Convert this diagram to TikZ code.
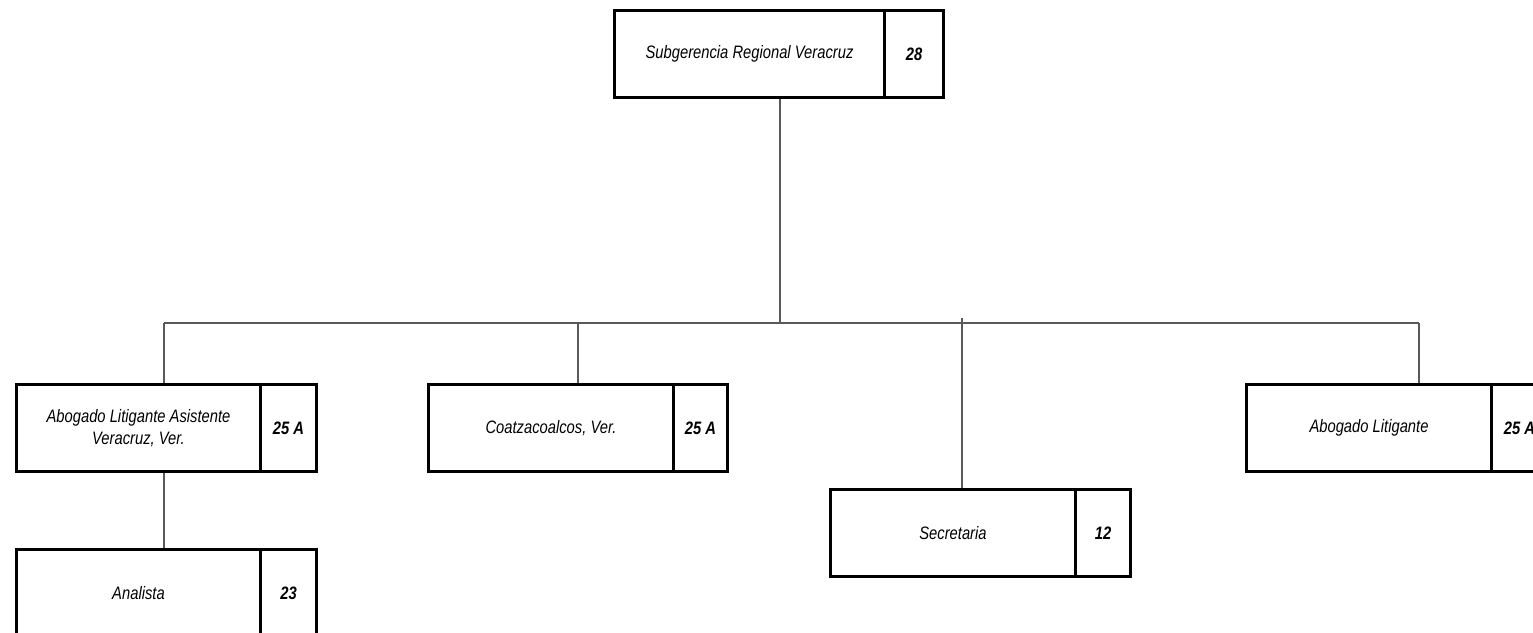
\documentclass[tikz,border=0pt]{standalone}
\usepackage{fontspec}
\setmainfont{Liberation Sans}[FakeStretch=0.82]
\begin{document}
\begin{tikzpicture}[x=1pt,y=-1pt,
  namebox/.style={draw=black, line width=3pt, anchor=north west, inner sep=2pt,
    minimum height=87pt, align=center, font=\fontsize{18}{22}\selectfont\itshape},
  gradebox/.style={draw=black, line width=3pt, anchor=north west, inner sep=2pt,
    minimum height=87pt, font=\fontsize{18}{22}\selectfont\bfseries\itshape},
  link/.style={draw=black!65, line width=1.4pt}]
\useasboundingbox (0,0) rectangle (1533,632);

% Top position
\node[namebox, minimum width=270pt] (sub) at (613,9) {Subgerencia Regional Veracruz};
\node[gradebox, minimum width=59pt] (subg) at (883,9) {28};

% Second level
\node[namebox, minimum width=244pt] (ala) at (15,383) {Abogado Litigante Asistente\\Veracruz, Ver.};
\node[gradebox, minimum width=56pt] (alag) at (259,383) {25 A};

\node[namebox, minimum width=245pt] (coa) at (427,383) {Coatzacoalcos, Ver.};
\node[gradebox, minimum width=54pt] (coag) at (672,383) {25 A};

\node[namebox, minimum width=245pt] (sec) at (829,488) {Secretaria};
\node[gradebox, minimum width=55pt] (secg) at (1074,488) {12};

\node[namebox, minimum width=245pt] (abl) at (1245,383) {Abogado Litigante};
\node[gradebox, minimum width=56pt] (ablg) at (1490,383) {25 A};

% Third level
\node[namebox, minimum width=244pt] (ana) at (15,548) {Analista};
\node[gradebox, minimum width=56pt] (anag) at (259,548) {23};

% Bus line and its taps
\coordinate (trunk) at (780,323);
\coordinate (busL) at (164,323);
\coordinate (busC) at (578,323);
\coordinate (busS) at (962,318);
\coordinate (busR) at (1419,323);

\draw[link] (sub.south -| trunk) -- (trunk);
\draw[link] (busL) -- (busR);
\draw[link] (busL) -- (ala.north -| busL);
\draw[link] (busC) -- (coa.north -| busC);
\draw[link] (busS) -- (sec.north -| busS);
\draw[link] (busR) -- (abl.north -| busR);
\draw[link] (ala.south -| busL) -- (ana.north -| busL);
\end{tikzpicture}
\end{document}
